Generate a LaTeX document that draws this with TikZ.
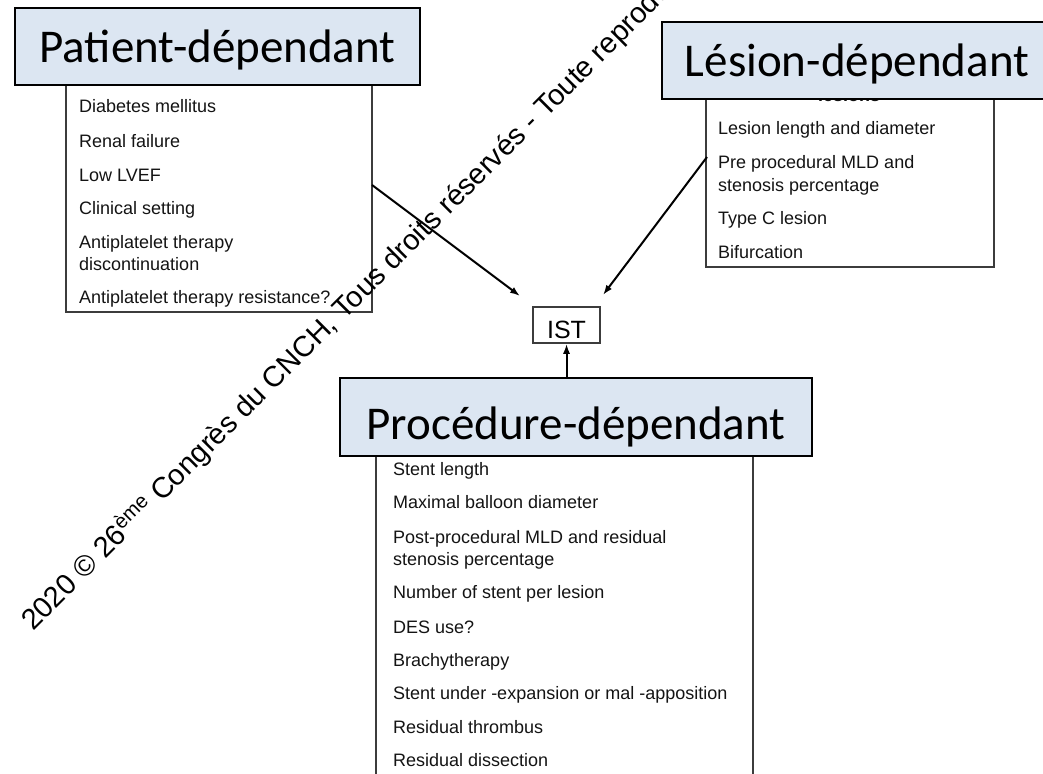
\documentclass[tikz,border=0pt]{standalone}
\usepackage{fontspec}
\usetikzlibrary{arrows.meta}
\newfontfamily\headfont{Carlito}
\newfontfamily\itemfont{Liberation Sans}
\definecolor{HeadBlue}{RGB}{220,230,242}
\definecolor{BoxGray}{RGB}{60,60,60}
\definecolor{ItemGray}{RGB}{20,20,20}
\tikzstyle{none}=[inner sep=0pt]
\tikzstyle{header}=[draw=black,line width=2,fill=HeadBlue,inner sep=0pt,font=\headfont\fontsize{47}{56}\selectfont,text height=32pt,text depth=0pt]
\tikzstyle{listbox}=[draw=BoxGray,line width=1.5,fill=white]
\tikzstyle{item}=[inner sep=0pt,anchor=base west,text=ItemGray,font=\itemfont\fontsize{18}{21}\selectfont]
\tikzstyle{hidden}=[inner sep=0pt,anchor=base,text=ItemGray,font=\itemfont\bfseries\fontsize{18}{21}\selectfont]
\tikzstyle{target}=[draw=BoxGray,line width=1.5,fill=white,inner sep=0pt,font=\itemfont\fontsize{25}{30}\selectfont,text height=26pt,text depth=0pt]
\tikzstyle{arrow}=[-{Latex[length=10pt,width=7pt]},draw=black,line width=2]
\tikzstyle{watermark}=[inner sep=0pt,anchor=base west,rotate=45,font=\itemfont\fontsize{29}{34}\selectfont]

\begin{document}
\begin{tikzpicture}[x=1pt,y=-1pt]
  \useasboundingbox (0,0) rectangle (1043,773);
  \clip (0,0) rectangle (1043,773);
  \node [style=none] (0) at (66, 60) {};
  \node [style=none] (1) at (372, 312) {};
  \node [style=none] (2) at (706, 80) {};
  \node [style=none] (3) at (994, 267) {};
  \node [style=none] (4) at (376, 430) {};
  \node [style=none] (5) at (753, 790) {};
  \draw [style=listbox] (0.center) rectangle (1.center);
  \draw [style=listbox] (2.center) rectangle (3.center);
  \draw [style=listbox] (4.center) rectangle (5.center);
  \node [style=item] (6) at (79, 113) {Diabetes mellitus};
  \node [style=item] (7) at (79, 147) {Renal failure};
  \node [style=item] (8) at (79, 181) {Low LVEF};
  \node [style=item] (9) at (79, 214) {Clinical setting};
  \node [style=item] (10) at (79, 248) {Antiplatelet therapy};
  \node [style=item] (11) at (79, 270) {discontinuation};
  \node [style=item] (12) at (79, 303) {Antiplatelet therapy resistance?};
  \node [style=hidden] (13) at (849, 102) {lesions};
  \node [style=item] (14) at (718, 135) {Lesion length and diameter};
  \node [style=item] (15) at (718, 168) {Pre procedural MLD and};
  \node [style=item] (16) at (718, 191) {stenosis percentage};
  \node [style=item] (17) at (718, 224) {Type C lesion};
  \node [style=item] (18) at (718, 258) {Bifurcation};
  \node [style=item] (19) at (393, 475) {Stent length};
  \node [style=item] (20) at (393, 508) {Maximal balloon diameter};
  \node [style=item] (21) at (393, 543) {Post-procedural MLD and residual};
  \node [style=item] (22) at (393, 565) {stenosis percentage};
  \node [style=item] (23) at (393, 598) {Number of stent per lesion};
  \node [style=item] (24) at (393, 633) {DES use?};
  \node [style=item] (25) at (393, 666) {Brachytherapy};
  \node [style=item] (26) at (393, 699) {Stent under -expansion or mal -apposition};
  \node [style=item] (27) at (393, 733) {Residual thrombus};
  \node [style=item] (28) at (393, 766) {Residual dissection};
  \node [style=header, minimum width=405pt, minimum height=77pt] (30) at (217.5, 46.5) {Patient-dépendant};
  \node [style=header, minimum width=390pt, minimum height=77pt] (31) at (857, 60.5) {Lésion-dépendant};
  \node [style=header, minimum width=472pt, minimum height=78pt, text height=44pt] (32) at (576, 417) {Procédure-dépendant};
  \node [style=target, minimum width=67pt, minimum height=36pt] (33) at (566.5, 325) {IST};
  \node [style=none] (40) at (372, 185) {};
  \node [style=none] (41) at (520, 296) {};
  \node [style=none] (42) at (707, 157) {};
  \node [style=none] (43) at (603, 295) {};
  \draw [style=arrow] (40.center) to (41.center);
  \draw [style=arrow] (42.center) to (43.center);
  \draw [style=arrow] (33.south |- 32.north) to (33.south);
  \node [style=watermark] (50) at (33, 632) {2020 © 26\textsuperscript{ème} Congrès du CNCH, Tous droits réservés - Toute reproduction};
\end{tikzpicture}
\end{document}
